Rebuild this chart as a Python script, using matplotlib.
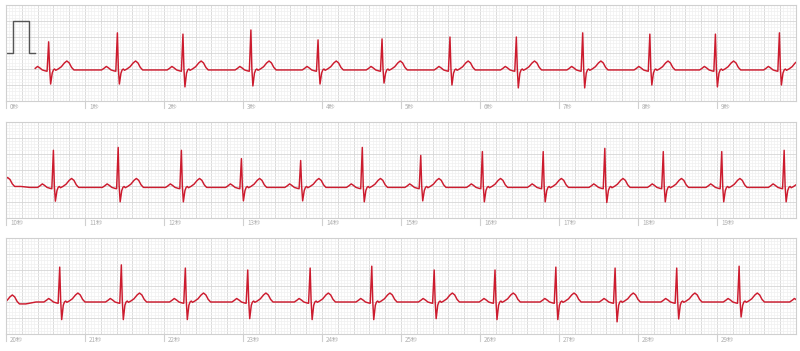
import numpy as np
import matplotlib.pyplot as plt
import matplotlib.transforms as mtransforms

plt.rcParams['font.family'] = ['Noto Sans CJK SC', 'DejaVu Sans']

r_times = [0.54, 1.41, 2.24, 3.10, 3.95, 4.76, 5.62, 6.46, 7.30, 8.15, 8.98, 9.79,
           10.60, 11.42, 12.22, 12.98, 13.73, 14.51, 15.25, 16.03, 16.80, 17.58, 18.32, 19.06, 19.85,
           20.68, 21.46, 22.27, 23.06, 23.85, 24.63, 25.42, 26.19, 26.96, 27.71, 28.49, 29.28, 30.12]
# R amplitude (mV above baseline)
r_amp = [0.88, 1.16, 1.12, 1.25, 0.94, 0.97, 1.03, 1.03, 1.16, 1.12, 1.12, 1.16,
         1.16, 1.25, 1.16, 0.90, 0.84, 1.25, 1.00, 1.12, 1.12, 1.22, 1.12, 1.12, 1.16,
         1.09, 1.16, 1.06, 1.00, 1.06, 1.12, 1.00, 1.00, 1.09, 1.06, 1.06, 1.12, 1.10]
# S depth (mV)
s_amp = [-0.44, -0.44, -0.53, -0.50, -0.44, -0.41, -0.47, -0.56, -0.56, -0.47, -0.53, -0.47,
         -0.43, -0.45, -0.45, -0.42, -0.42, -0.45, -0.42, -0.45, -0.45, -0.47, -0.45, -0.45, -0.45,
         -0.55, -0.55, -0.55, -0.52, -0.55, -0.55, -0.52, -0.55, -0.55, -0.62, -0.53, -0.47, -0.50]
strip_base = [-0.53, -0.56, -0.50, -0.50]
trace_start = 0.37

# one beat, offsets from R (s) and level above baseline (mV); R and S filled per beat
beat_dt = [-0.30, -0.20, -0.17, -0.14, -0.11, -0.08, -0.04, -0.02, 0.0, 0.012, 0.025,
           0.045, 0.06, 0.075, 0.09, 0.12, 0.16, 0.20, 0.23, 0.26, 0.29, 0.32, 0.40]
beat_val = [0.0, 0.0, 0.05, 0.11, 0.06, 0.0, -0.03, -0.04, 0.0, 0.05, 0.0,
            -0.10, 0.0, 0.03, -0.01, 0.03, 0.10, 0.22, 0.28, 0.22, 0.08, 0.0, 0.0]
R_IDX, S_IDX = 8, 10

# calibration pulse 1 mV
cal_t = [0.0, 0.09, 0.09, 0.29, 0.29, 0.37]
cal_v = [0.0, 0.0, 1.0, 1.0, 0.0, 0.0]

ts, vs = [], []
for t, r, s in zip(r_times, r_amp, s_amp):
    base = strip_base[int(t // 10)]
    for i, (dt, v) in enumerate(zip(beat_dt, beat_val)):
        if i == R_IDX:
            v = r
        elif i == S_IDX:
            v = s
        ts.append(t + dt)
        vs.append(base + v)
ts = np.array(ts)
vs = np.array(vs)
keep = ts >= trace_start
ts, vs = ts[keep], vs[keep]

fig = plt.figure(figsize=(8, 3.51), dpi=100)
W, H = 800, 351
for k in range(3):
    top = 5 + 116.5 * k
    ax = fig.add_axes([6 / W, 1 - (top + 96) / H, 790 / W, 96 / H])
    x0 = 10 * k
    ax.set_xlim(x0, x0 + 10)
    ax.set_ylim(-1.5, 1.5)
    ax.set_xticks(np.arange(x0, x0 + 10.01, 0.2))
    ax.set_xticks(np.arange(x0, x0 + 10.01, 0.04), minor=True)
    ax.set_yticks(np.arange(-1.5, 1.51, 0.5))
    ax.set_yticks(np.arange(-1.5, 1.51, 0.1), minor=True)
    ax.grid(which='minor', color='#f0f0f0', lw=0.5)
    ax.grid(which='major', color='#d6d6d6', lw=0.6)
    ax.tick_params(which='both', length=0, labelbottom=False, labelleft=False)
    ax.set_axisbelow(True)
    for sp in ax.spines.values():
        sp.set_color('#d0d0d0')
        sp.set_linewidth(0.8)

    if k == 0:
        ax.plot(cal_t, cal_v, color='#555555', lw=1.0)
    ax.plot(ts, vs, color='#cc1b2e', lw=1.05)

    trans = mtransforms.blended_transform_factory(ax.transData, ax.transAxes)
    for sec in range(10):
        x = x0 + sec
        ax.plot([x, x], [0, -0.075], color='#d0d0d0', lw=0.8, transform=trans, clip_on=False)
        ax.text(x + 0.05, -0.06, f'{x}秒', transform=trans, fontsize=4.5,
                color='#b0b0b0', ha='left', va='center')

fig.savefig('out.png', dpi=100)
